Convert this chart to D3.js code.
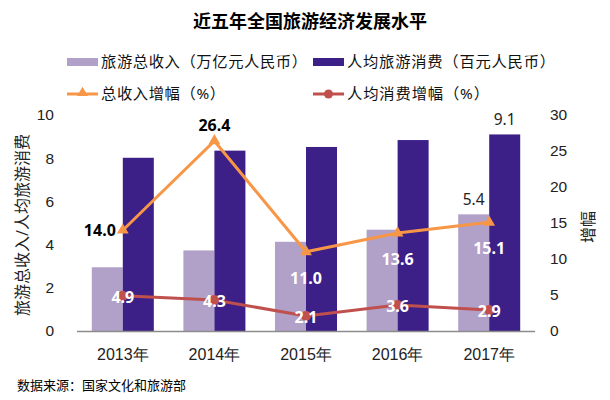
<!DOCTYPE html>
<html><head><meta charset="utf-8">
<script src="https://cdn.jsdelivr.net/npm/d3@7"></script>
<style>
body{margin:0;background:#fff;}
svg{font-family:"Noto Sans","Noto Sans CJK SC","Microsoft YaHei",sans-serif;}
</style></head>
<body><svg id="c" width="610" height="400"></svg>
<script>
const years = ["2013年","2014年","2015年","2016年","2017年"];
const totalRevenue = [2.95, 3.73, 4.13, 4.69, 5.4];      // 万亿元
const perCapita = [8.02, 8.35, 8.52, 8.84, 9.1];          // 百元
const revenueGrowth = [14.0, 26.4, 11.0, 13.6, 15.1];     // %
const perCapitaGrowth = [4.9, 4.3, 2.1, 3.6, 2.9];        // %
const leftTicks = [0,2,4,6,8,10];
const rightTicks = [0,5,10,15,20,25,30];
const seriesNames = ["旅游总收入（万亿元人民币）","人均旅游消费（百元人民币）","总收入增幅（%）","人均消费增幅（%）"];

const C = {light:"#B1A0C7", dark:"#3C1F87", orange:"#F79646", red:"#C0504D", axis:"#8c8c8c"};
const svg = d3.select("#c");
const L = 77, R = 535, T = 115, B = 331;

const x = d3.scaleBand().domain(years).range([L,R]).paddingInner(0.323).paddingOuter(0.1615);
const x1 = d3.scaleBand().domain(["rev","per"]).range([0,x.bandwidth()]);
const yL = d3.scaleLinear().domain([0,10]).range([B,T]);
const yR = d3.scaleLinear().domain([0,30]).range([B,T]);
const cx = d => x(d)+x.bandwidth()/2;

// title
svg.append("text").attr("x",310).attr("y",28).attr("text-anchor","middle")
  .attr("font-size",18).attr("font-weight","bold").attr("fill","#000").text("近五年全国旅游经济发展水平");

// legend
const lg = svg.append("g").attr("font-size",15.3).attr("fill","#111");
lg.append("rect").attr("x",67).attr("y",58).attr("width",31).attr("height",8).attr("fill",C.light);
lg.append("text").attr("x",101).attr("y",67).attr("textLength",206).attr("lengthAdjust","spacing").text(seriesNames[0]);
lg.append("rect").attr("x",313).attr("y",58).attr("width",31).attr("height",8).attr("fill",C.dark);
lg.append("text").attr("x",347).attr("y",67).attr("textLength",208).attr("lengthAdjust","spacing").text(seriesNames[1]);
lg.append("line").attr("x1",67).attr("x2",98).attr("y1",94).attr("y2",94).attr("stroke",C.orange).attr("stroke-width",3);
lg.append("path").attr("d",d3.symbol(d3.symbolTriangle,50)()).attr("transform","translate(82.5,93)").attr("fill",C.orange);
lg.append("text").attr("x",101).attr("y",99).attr("textLength",124).attr("lengthAdjust","spacing").text(seriesNames[2]);
lg.append("line").attr("x1",313).attr("x2",344).attr("y1",94).attr("y2",94).attr("stroke",C.red).attr("stroke-width",3);
lg.append("circle").attr("cx",328.5).attr("cy",94).attr("r",4.5).attr("fill",C.red);
lg.append("text").attr("x",347).attr("y",99).attr("textLength",142).attr("lengthAdjust","spacing").text(seriesNames[3]);

// axes tick labels
const axL = svg.append("g").attr("transform",`translate(${L},0)`)
  .call(d3.axisLeft(yL).tickValues(leftTicks).tickSize(0).tickPadding(23).tickFormat(d3.format("d")));
const axR = svg.append("g").attr("transform",`translate(${R},0)`)
  .call(d3.axisRight(yR).tickValues(rightTicks).tickSize(0).tickPadding(15).tickFormat(d3.format("d")));
const axX = svg.append("g").attr("transform",`translate(0,${B})`)
  .call(d3.axisBottom(x).tickSize(0).tickPadding(18));
[axL,axR].forEach(a=>{a.select(".domain").remove();a.selectAll("text").attr("font-size",15.5).attr("fill","#222").attr("font-family","inherit");});
axX.select(".domain").remove();
axX.selectAll("text").attr("font-size",16).attr("fill","#222").attr("font-family","inherit");

// axis titles
svg.append("text").attr("transform","translate(28,225) rotate(-90)").attr("text-anchor","middle")
  .attr("font-size",16).attr("fill","#222").text("旅游总收入/人均旅游消费");
svg.append("text").attr("transform","translate(594,227) rotate(-90)").attr("text-anchor","middle")
  .attr("font-size",16).attr("fill","#222").text("增幅");

// bars
const g = svg.append("g");
g.selectAll(".rev").data(years).join("rect").attr("x",(d)=>x(d)+x1("rev")).attr("width",x1.bandwidth())
  .attr("y",(d,i)=>yL(totalRevenue[i])).attr("height",(d,i)=>B-yL(totalRevenue[i])).attr("fill",C.light);
g.selectAll(".per").data(years).join("rect").attr("x",(d)=>x(d)+x1("per")).attr("width",x1.bandwidth())
  .attr("y",(d,i)=>yL(perCapita[i])).attr("height",(d,i)=>B-yL(perCapita[i])).attr("fill",C.dark);

// baseline
svg.append("line").attr("x1",L).attr("x2",R).attr("y1",B+0.5).attr("y2",B+0.5).attr("stroke",C.axis).attr("stroke-width",1.3);

// bar labels for 2017
const last = years.length-1;
svg.append("text").attr("x",x(years[last])+x1("rev")+x1.bandwidth()/2).attr("y",yL(totalRevenue[last])-9)
  .attr("text-anchor","middle").attr("font-size",15.5).attr("fill","#222").text(totalRevenue[last].toFixed(1));
svg.append("text").attr("x",x(years[last])+x1("per")+x1.bandwidth()/2).attr("y",yL(perCapita[last])-9)
  .attr("text-anchor","middle").attr("font-size",15.5).attr("fill","#222").text(perCapita[last].toFixed(1));

// lines
const line = d3.line().x((d,i)=>cx(years[i])).y(d=>yR(d));
svg.append("path").datum(revenueGrowth).attr("d",line).attr("fill","none").attr("stroke",C.orange).attr("stroke-width",3);
svg.append("path").datum(perCapitaGrowth).attr("d",line).attr("fill","none").attr("stroke",C.red).attr("stroke-width",3);
svg.selectAll(".tri").data(revenueGrowth).join("path").attr("d",d3.symbol(d3.symbolTriangle,60)())
  .attr("transform",(d,i)=>`translate(${cx(years[i])},${yR(d)})`).attr("fill",C.orange);
svg.selectAll(".dot").data(perCapitaGrowth).join("circle").attr("cx",(d,i)=>cx(years[i])).attr("cy",d=>yR(d))
  .attr("r",5).attr("fill",C.red);

// growth labels
const lab = svg.append("g").attr("font-size",16).attr("font-weight","bold");
revenueGrowth.forEach((v,i)=>{
  const px = cx(years[i]), py = yR(v);
  let t = lab.append("text").text(v.toFixed(1));
  if(i===0) t.attr("x",px-7).attr("y",py+6).attr("text-anchor","end").attr("fill","#000");
  else if(i===1) t.attr("x",px).attr("y",py-10).attr("text-anchor","middle").attr("fill","#000");
  else t.attr("x",px).attr("y",py+32).attr("text-anchor","middle").attr("fill","#fff");
});
perCapitaGrowth.forEach((v,i)=>{
  lab.append("text").attr("x",cx(years[i])).attr("y",yR(v)+7).attr("text-anchor","middle").attr("fill","#fff").text(v.toFixed(1));
});

// source
svg.append("text").attr("x",17).attr("y",390).attr("font-size",13).attr("fill","#000").text("数据来源：国家文化和旅游部");
</script></body></html>
